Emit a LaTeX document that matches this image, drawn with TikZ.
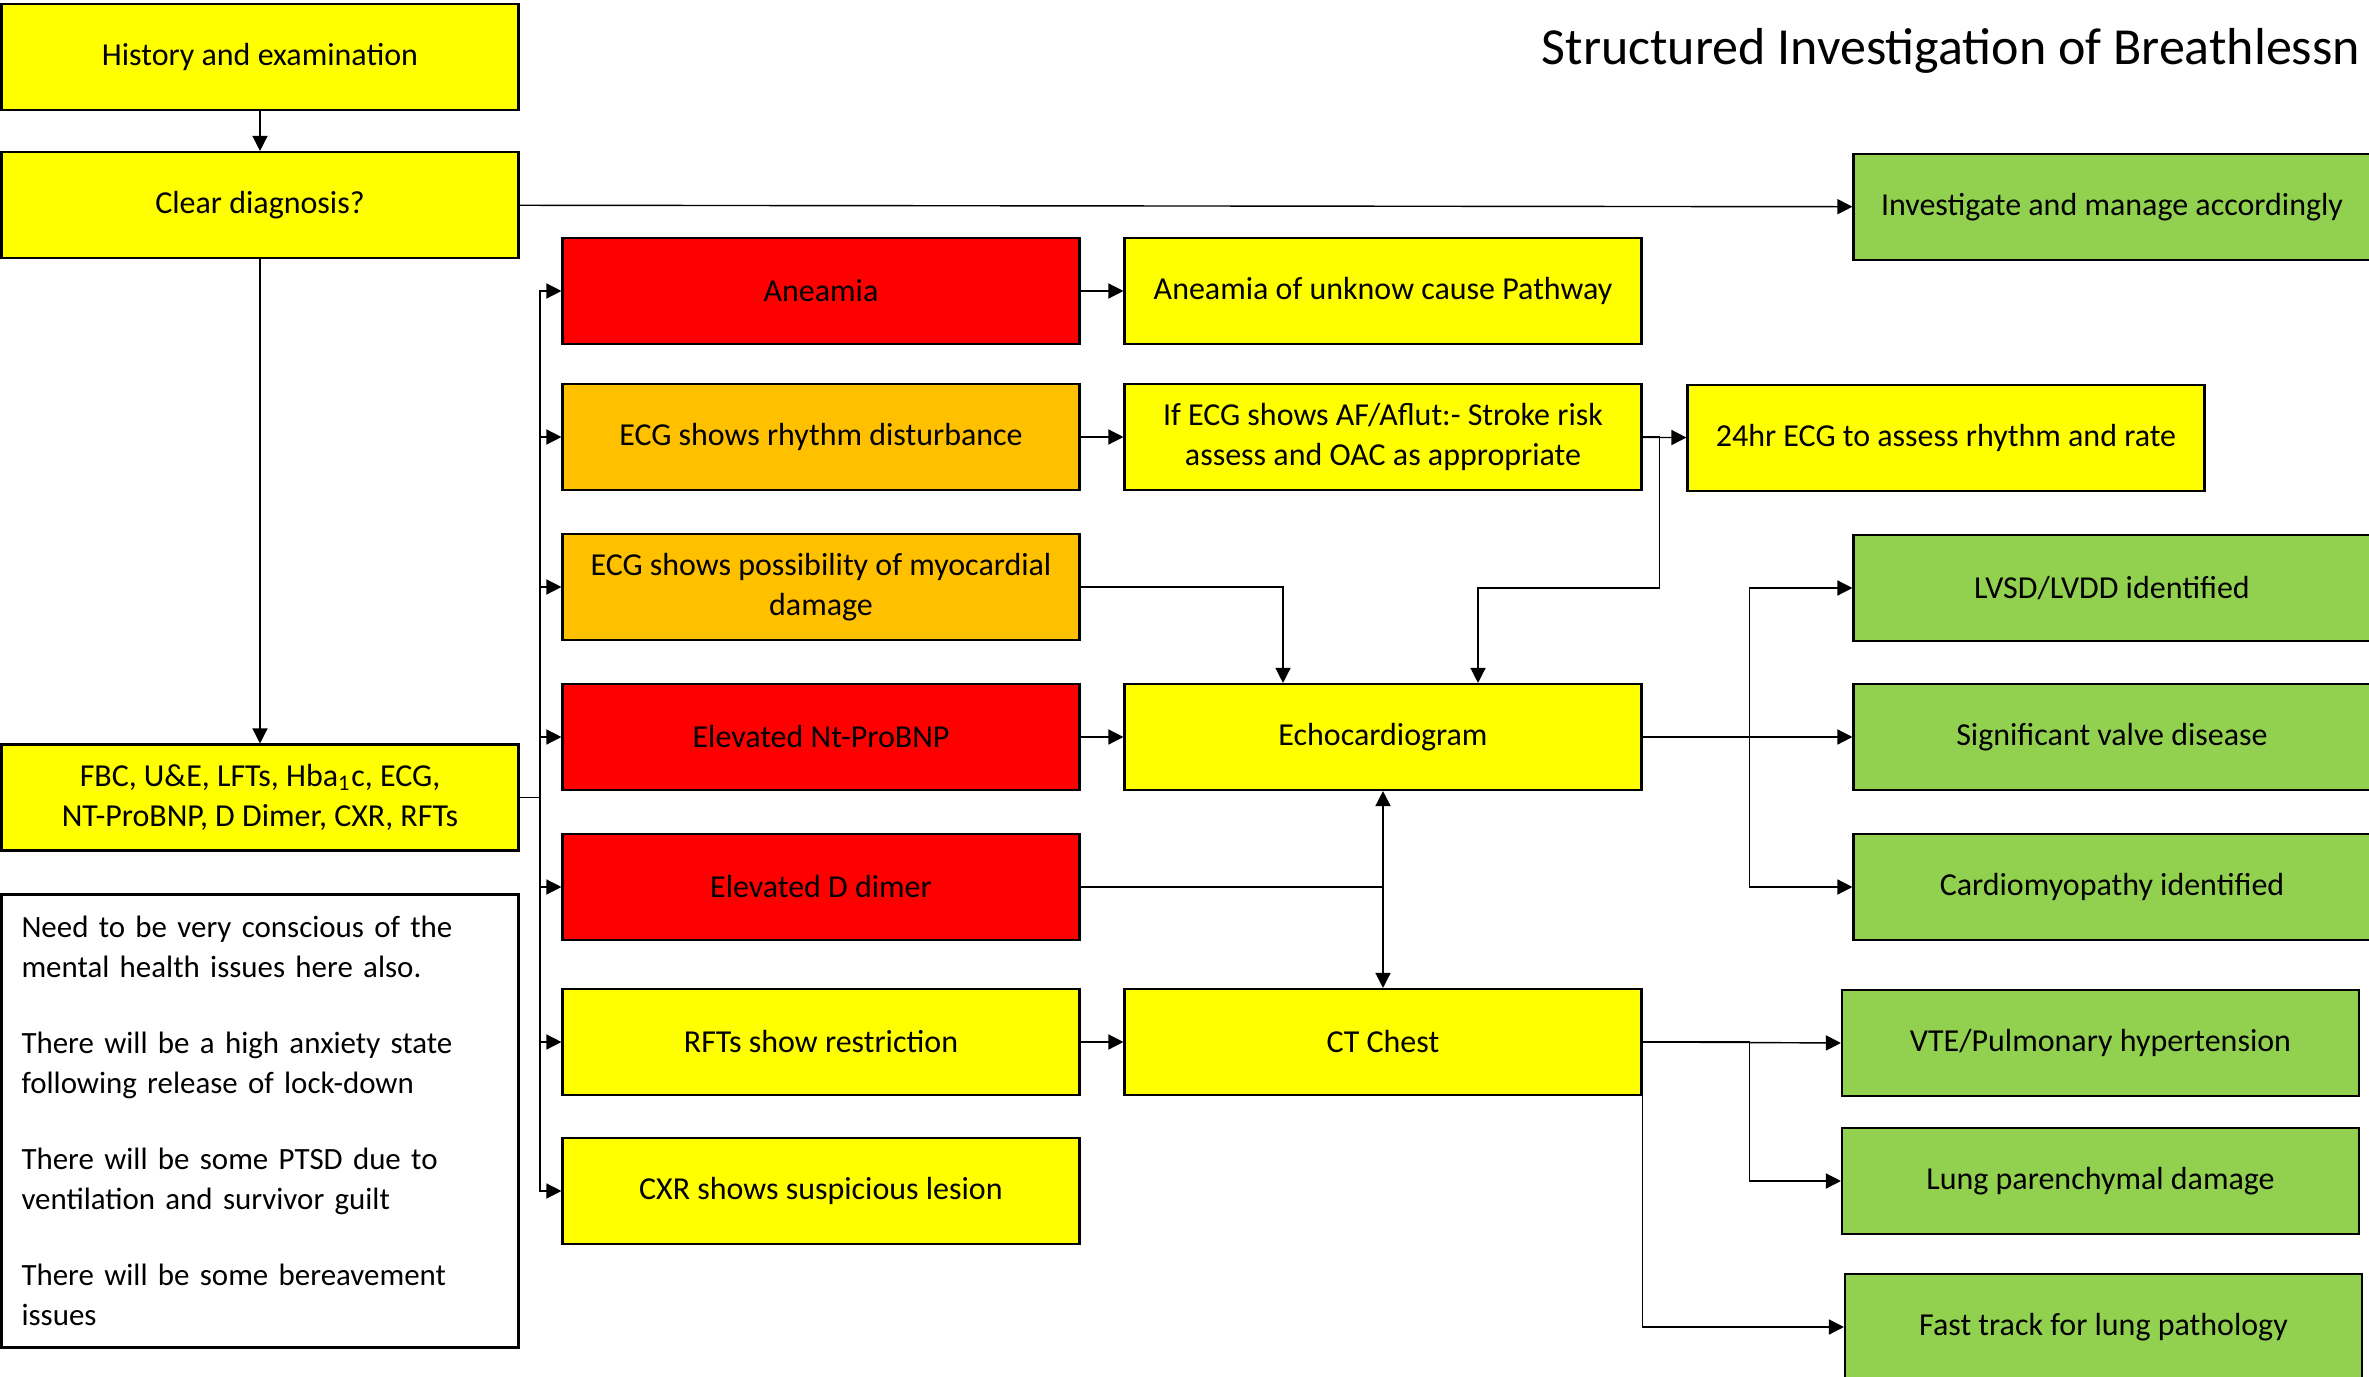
\documentclass[tikz,border=0pt]{standalone}
\usepackage{fontspec}
\setmainfont{Carlito}
\usetikzlibrary{arrows.meta}
\usetikzlibrary{positioning}

\definecolor{boxyellow}{HTML}{FFFF00}
\definecolor{boxred}{HTML}{FF0000}
\definecolor{boxorange}{HTML}{FFC000}
\definecolor{boxgreen}{HTML}{92D050}

\tikzset{
	box/.style={draw, rectangle, line width=0.6pt, minimum width=5.17cm, minimum height=1.06cm, align=center, font=\fontsize{9.1}{11.2}\selectfont},
	ybox/.style={box, fill=boxyellow},
	rbox/.style={box, fill=boxred},
	obox/.style={box, fill=boxorange},
	gbox/.style={box, fill=boxgreen},
	link/.style={line width=0.4pt}
}

\begin{document}
\begin{tikzpicture}[>={Triangle[length=1.5mm,width=1.5mm]}]
			\clip (0,0) rectangle (23.69,-13.77);
			\node[anchor=base west, inner sep=0pt, font=\fontsize{14.8}{17}\selectfont] (title) at (15.41,-0.645) {Structured Investigation of Breathlessn};
			\node[ybox] (hist) at (2.60,-0.57) {History and examination};
			\node[ybox] (clear) at (2.60,-2.05) {Clear diagnosis?};
			\draw [link,->] (hist) -- (clear);
			\node[gbox] (invest) at (21.12,-2.07) {Investigate and manage accordingly};
			\draw [link,->] (clear) -- (invest);
			\node[ybox] (fbc) at (2.60,-7.975) {FBC, U\&E, LFTs, Hba\textsubscript{1}c, ECG, \\ NT-ProBNP, D Dimer, CXR, RFTs};
			\draw [link,->] (clear) -- (fbc);
			\node[draw, rectangle, line width=0.6pt, minimum width=5.17cm, minimum height=4.53cm, text width=4.77cm, inner xsep=0.2cm, align=left, font=\fontsize{8.8}{11.4}\selectfont] (note) at (2.60,-11.21) {Need to be very conscious of the \\ mental health issues here also. \\[0.36cm] There will be a high anxiety state \\ following release of lock-down \\[0.36cm] There will be some PTSD due to \\ ventilation and survivor guilt \\[0.36cm] There will be some bereavement \\ issues};
			% results of the first tests
			\node[rbox] (aneamia) at (8.21,-2.91) {Aneamia};
			\node[obox] (ecgr) at (8.21,-4.37) {ECG shows rhythm disturbance};
			\node[obox] (ecgm) at (8.21,-5.87) {ECG shows possibility of myocardial \\ damage};
			\node[rbox] (ntbnp) at (8.21,-7.37) {Elevated Nt-ProBNP};
			\node[rbox] (ddim) at (8.21,-8.87) {Elevated D dimer};
			\node[ybox] (rfts) at (8.21,-10.42) {RFTs show restriction};
			\node[ybox] (cxr) at (8.21,-11.91) {CXR shows suspicious lesion};
			\coordinate (bus) at (5.40,-7.975);
			\draw [link] (fbc.east) -- (bus);
			\draw [link,->] (bus) |- (aneamia.west);
			\draw [link,->] (bus) |- (ecgr.west);
			\draw [link,->] (bus) |- (ecgm.west);
			\draw [link,->] (bus) |- (ntbnp.west);
			\draw [link,->] (bus) |- (ddim.west);
			\draw [link,->] (bus) |- (rfts.west);
			\draw [link,->] (bus) |- (cxr.west);
			% next steps
			\node[ybox] (anu) at (13.83,-2.91) {Aneamia of unknow cause Pathway};
			\draw [link,->] (aneamia) -- (anu);
			\node[ybox] (ecgaf) at (13.83,-4.37) {If ECG shows AF/Aflut:- Stroke risk \\ assess and OAC as appropriate};
			\draw [link,->] (ecgr) -- (ecgaf);
			\node[ybox] (h24) at (19.46,-4.38) {24hr ECG to assess rhythm and rate};
			\draw [link,->] (ecgaf) -- (h24);
			\node[ybox] (echo) at (13.83,-7.37) {Echocardiogram};
			\draw [link,->] (ecgaf.east) -- ++(0.17,0) -- ++(0,-1.51) -| ([xshift=9.5mm]echo.north);
			\draw [link,->] (ecgm.east) -| ([xshift=-10mm]echo.north);
			\draw [link,->] (ntbnp) -- (echo);
			\node[ybox] (ct) at (13.83,-10.42) {CT Chest};
			\draw [link,->] (ddim.east) -| (echo.south);
			\draw [link,->] (ddim.east) -| (ct.north);
			\draw [link,->] (rfts) -- (ct);
			% outcomes
			\node[gbox] (lvsd) at (21.12,-5.88) {LVSD/LVDD identified};
			\node[gbox] (sig) at (21.12,-7.37) {Significant valve disease};
			\node[gbox] (cardio) at (21.12,-8.87) {Cardiomyopathy identified};
			\node[gbox] (vte) at (21.005,-10.43) {VTE/Pulmonary hypertension};
			\node[gbox] (lung) at (21.005,-11.81) {Lung parenchymal damage};
			\node[gbox] (fast) at (21.035,-13.27) {Fast track for lung pathology};
			\draw [link,->] (echo.east) -- ++(1.07,0) |- (lvsd.west);
			\draw [link,->] (echo) -- (sig);
			\draw [link,->] (echo.east) -- ++(1.07,0) |- (cardio.west);
			\draw [link,->] (ct.east) -- (vte.west);
			\draw [link,->] (ct.east) -- ++(1.07,0) |- (lung.west);
			\draw [link,->] (ct.south east) |- (fast.west);
		\end{tikzpicture}
\end{document}
